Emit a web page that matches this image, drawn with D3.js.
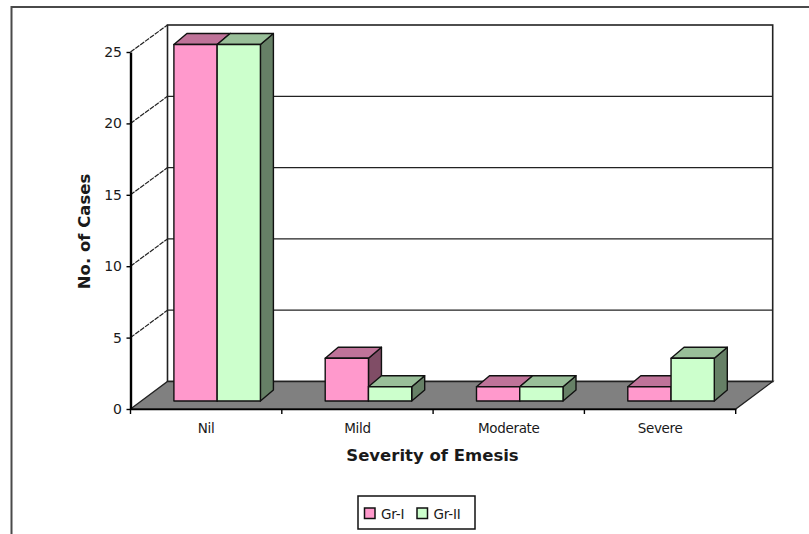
<!DOCTYPE html>
<html>
<head>
<meta charset="utf-8">
<style>
html, body { margin: 0; padding: 0; background: #fff; }
svg { display: block; }
text { font-family: "DejaVu Sans", sans-serif; fill: #1a1a1a; }
</style>
<script src="https://d3js.org/d3.v7.min.js"></script>
</head>
<body>
<script>
const categories = ["Nil", "Mild", "Moderate", "Severe"];
const seriesNames = ["Gr-I", "Gr-II"];
const grI = [25, 3, 1, 1];
const grII = [25, 1, 1, 3];
const yTicks = [0, 5, 10, 15, 20, 25];

const frontColors = ["#ff99cc", "#ccffcc"];
const topColors = ["#bf7399", "#99bf99"];
const sideColors = ["#804d66", "#668066"];
const ink = "#111";

const width = 809, height = 534;
const depthX = 37, depthY = 27.5;
const barDepthX = 13, barDepthY = 11;

const svg = d3.select("body").append("svg")
  .attr("width", width).attr("height", height);

// Page frame: only the top and left edges fall inside the window
svg.append("path")
  .attr("d", `M11.5,${height} V7 H${width}`)
  .attr("fill", "none").attr("stroke", "#4a4a4a").attr("stroke-width", 2);

const xFront = d3.scaleBand().domain(categories).range([130.5, 735.7]);
const yFront = d3.scaleLinear().domain([0, 25]).range([409, 52]);
const yBack = d3.scaleLinear().domain([0, 25]).range([381.5, 25]);
const yBar = d3.scaleLinear().domain([0, 25]).range([401, 44.5]);
const xBar = d3.scaleBand().domain([0, 1]).paddingInner(0);

// Back wall
const backLeft = 130.5 + depthX;
const backRight = 735.7 + depthX;
svg.append("rect")
  .attr("x", backLeft).attr("y", yBack(25))
  .attr("width", backRight - backLeft).attr("height", yBack(0) - yBack(25))
  .attr("fill", "#fff").attr("stroke", "#222").attr("stroke-width", 1.6);

// Grid lines across the back wall and down the side wall
const grid = svg.append("g");
grid.selectAll("line.back").data(yTicks.slice(1, -1)).join("line")
  .attr("class", "back")
  .attr("x1", backLeft).attr("x2", backRight)
  .attr("y1", d => yBack(d)).attr("y2", d => yBack(d))
  .attr("stroke", "#222").attr("stroke-width", 1.3);
grid.selectAll("line.side").data(yTicks.slice(1)).join("line")
  .attr("class", "side")
  .attr("x1", 130.5).attr("x2", backLeft)
  .attr("y1", d => yFront(d)).attr("y2", d => yBack(d))
  .attr("stroke", "#222").attr("stroke-width", 1.2)
  .attr("stroke-dasharray", "5 1");

// Floor
svg.append("path")
  .attr("d", d3.line()([
    [130.5, yFront(0)], [backLeft, yBack(0)],
    [backRight, yBack(0)], [735.7, yFront(0)]
  ]) + "Z")
  .attr("fill", "#808080").attr("stroke", "#222").attr("stroke-width", 1.3);

// Bars: each one is a front face, a top face and a right side face
const bars = svg.append("g").attr("stroke", ink).attr("stroke-width", 1.4)
  .attr("stroke-linejoin", "round");
const barSpan = 86.5;

categories.forEach((cat, i) => {
  const start = xFront(cat) + (xFront.bandwidth() - barSpan) / 2 + 11;
  xBar.range([start, start + barSpan]);
  [grI, grII].forEach((series, s) => {
    const v = series[i];
    const x0 = xBar(s), x1 = x0 + xBar.bandwidth();
    const yT = yBar(v), yB = yBar(0);
    const poly = pts => d3.line()(pts) + "Z";
    bars.append("path")
      .attr("d", poly([[x1, yT], [x1 + barDepthX, yT - barDepthY], [x1 + barDepthX, yB - barDepthY], [x1, yB]]))
      .attr("fill", sideColors[s]);
    bars.append("path")
      .attr("d", poly([[x0, yT], [x0 + barDepthX, yT - barDepthY], [x1 + barDepthX, yT - barDepthY], [x1, yT]]))
      .attr("fill", topColors[s]);
    bars.append("rect")
      .attr("x", x0).attr("y", yT)
      .attr("width", x1 - x0).attr("height", yB - yT)
      .attr("fill", frontColors[s]);
  });
});

// Front axes
const yAxis = svg.append("g").attr("transform", "translate(130.5,0)")
  .call(d3.axisLeft(yFront).tickValues(yTicks).tickSizeInner(4).tickSizeOuter(0).tickPadding(4.5));
yAxis.selectAll(".domain").attr("stroke", "#000").attr("stroke-width", 2.4);
yAxis.selectAll(".tick line").attr("stroke", "#000").attr("stroke-width", 1.4);
yAxis.selectAll("text").attr("font-size", 14).style("font-family", '"DejaVu Sans", sans-serif').attr("fill", "#2a2a2a");

const xAxis = svg.append("g").attr("transform", `translate(0,${yFront(0)})`)
  .call(d3.axisBottom(xFront).tickSize(0).tickPadding(14));
xAxis.selectAll(".domain").attr("stroke", "#000").attr("stroke-width", 1.6);
xAxis.selectAll("text").attr("font-size", 13.5).style("font-family", '"DejaVu Sans", sans-serif')
  .attr("fill", "#2a2a2a").attr("letter-spacing", -0.35);
const boundaries = categories.map(c => xFront(c)).concat(735.7);
xAxis.selectAll("line.boundary").data(boundaries).join("line")
  .attr("class", "boundary")
  .attr("x1", d => d).attr("x2", d => d).attr("y1", 0).attr("y2", 5)
  .attr("stroke", "#000").attr("stroke-width", 1.4);

// Axis titles
svg.append("text").attr("x", 432.5).attr("y", 461)
  .attr("text-anchor", "middle").attr("font-size", 16.5).attr("font-weight", 700)
  .text("Severity of Emesis");
svg.append("text").attr("transform", "translate(90,231.5) rotate(-90)")
  .attr("text-anchor", "middle").attr("font-size", 16.5).attr("font-weight", 700)
  .text("No. of Cases");

// Legend
svg.append("rect").attr("x", 358).attr("y", 496)
  .attr("width", 117).attr("height", 33)
  .attr("fill", "#fff").attr("stroke", "#111").attr("stroke-width", 1.5);
const legendX = d3.scalePoint().domain(seriesNames).range([364.5, 417]);
const legend = svg.selectAll("g.legend").data(seriesNames).join("g")
  .attr("class", "legend")
  .attr("transform", d => `translate(${legendX(d)},508)`);
legend.append("rect").attr("width", 10.5).attr("height", 10.5)
  .attr("fill", (d, i) => frontColors[i]).attr("stroke", ink).attr("stroke-width", 1.5);
legend.append("text").attr("x", 16.5).attr("y", 10.5).attr("font-size", 13.5)
  .attr("letter-spacing", -0.2).attr("fill", "#2a2a2a").text(d => d);
</script>
</body>
</html>
